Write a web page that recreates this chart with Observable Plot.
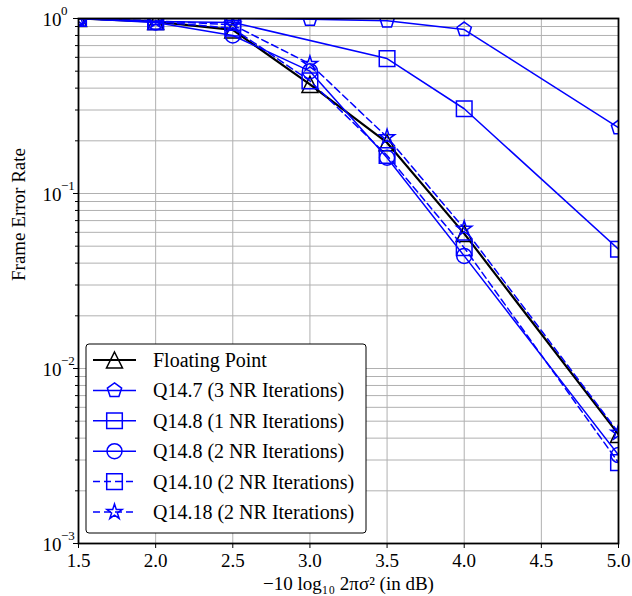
<!DOCTYPE html>
<html><head><meta charset="utf-8">
<script src="https://cdn.jsdelivr.net/npm/d3@7"></script>
<script src="https://cdn.jsdelivr.net/npm/@observablehq/plot@0.6"></script>
<style>
html,body{margin:0;padding:0;background:#fff;}
#chart{position:relative;width:632px;height:596px;}
</style></head><body><div id="chart"></div>
<script>
// ---- data ----
const snr = [1.5, 2.0, 2.5, 3.0, 3.5, 4.0, 5.0];
const floatingPoint = [1.0, 0.96, 0.86, 0.42, 0.195, 0.059, 0.0042];
const q14_7_3nr  = [1.0, 1.0, 1.0, 0.99, 0.97, 0.865, 0.238];
const q14_8_1nr  = [1.0, 0.96, 0.95, null, 0.59, 0.305, 0.048];
const q14_8_2nr  = [1.0, 0.95, 0.80, 0.50, 0.16, 0.044, 0.0032];
const q14_10_2nr = [1.0, 0.96, 0.88, 0.44, 0.165, 0.049, 0.0029];
const q14_18_2nr = [1.0, 0.97, 0.92, 0.55, 0.21, 0.063, 0.0043];
const seriesNames = ["Floating Point", "Q14.7 (3 NR Iterations)", "Q14.8 (1 NR Iterations)",
  "Q14.8 (2 NR Iterations)", "Q14.10 (2 NR Iterations)", "Q14.18 (2 NR Iterations)"];
const xTicks = [1.5, 2.0, 2.5, 3.0, 3.5, 4.0, 4.5, 5.0];
const xTickLabels = ["1.5", "2.0", "2.5", "3.0", "3.5", "4.0", "4.5", "5.0"];
const yMajorTicks = [1e-3, 1e-2, 1e-1, 1];
const yMajorExponents = ["−3", "−2", "−1", "0"];
const yMinorTicks = [];
for (const d of [1e-3, 1e-2, 1e-1]) for (let k = 2; k <= 9; k++) yMinorTicks.push(+(k * d).toPrecision(3));
const xLabel = "−10 log₁₀ 2πσ² (in dB)";
const yLabel = "Frame Error Rate";

// ---- symbols (radius r = sqrt(size/π)) ----
const R = s => Math.sqrt(s / Math.PI);
const triangle = {draw(c, s){const r = R(s); c.moveTo(0,-r); c.lineTo(r,r); c.lineTo(-r,r); c.closePath();}};
const square = {draw(c, s){const r = R(s); c.moveTo(-r,-r); c.lineTo(r,-r); c.lineTo(r,r); c.lineTo(-r,r); c.closePath();}};
const pentagon = {draw(c, s){const r = R(s); for (let i=0;i<5;i++){const a=-Math.PI/2+i*2*Math.PI/5; const x=r*Math.cos(a), y=r*Math.sin(a); i?c.lineTo(x,y):c.moveTo(x,y);} c.closePath();}};
const star = {draw(c, s){const r = R(s); for (let i=0;i<10;i++){const rr = i%2? r*0.381966 : r; const a=-Math.PI/2+i*Math.PI/5; const x=rr*Math.cos(a), y=rr*Math.sin(a); i?c.lineTo(x,y):c.moveTo(x,y);} c.closePath();}};
const circle = {draw(c, s){const r = R(s); c.moveTo(r,0); c.arc(0,0,r,0,2*Math.PI);}};

const styles = [
  {values: floatingPoint, color: "black", width: 2.2, dash: null, symbol: triangle, r: 8},
  {values: q14_7_3nr, color: "#0000ff", width: 1.5, dash: null, symbol: pentagon, r: 7.5},
  {values: q14_8_1nr, color: "#0000ff", width: 1.5, dash: null, symbol: square, r: 7.8},
  {values: q14_8_2nr, color: "#0000ff", width: 1.5, dash: null, symbol: circle, r: 7.5},
  {values: q14_10_2nr, color: "#0000ff", width: 1.5, dash: "7,4", symbol: square, r: 7.8},
  {values: q14_18_2nr, color: "#0000ff", width: 1.5, dash: "7,4", symbol: star, r: 8}
];
const series = styles.map((s, i) => ({...s, name: seriesNames[i],
  rows: snr.map((x, j) => ({x, y: s.values[j]})).filter(d => d.y != null)}));

const FONT = "'Liberation Serif', serif";
const gridColor = "#b0b0b0";
const xLabelMap = new Map(xTicks.map((t, i) => [t, xTickLabels[i]]));
const marks = [
  Plot.gridX(xTicks, {stroke: gridColor, strokeOpacity: 1, strokeWidth: 1}),
  Plot.gridY(yMinorTicks, {stroke: gridColor, strokeOpacity: 1, strokeWidth: 1}),
  Plot.gridY(yMajorTicks, {stroke: gridColor, strokeOpacity: 1, strokeWidth: 1}),
  Plot.axisX(xTicks, {tickSize: 5, tickPadding: 5, tickFormat: d => xLabelMap.get(d), label: null, fontSize: 19}),
  Plot.axisY(yMajorTicks, {tickSize: 5, tickPadding: 3, tickFormat: () => "", label: null}),
  Plot.axisY(yMinorTicks, {tickSize: 3, tickFormat: () => "", label: null}),
];
for (const s of series) {
  marks.push(Plot.line(s.rows, {x: "x", y: "y", stroke: s.color, strokeWidth: s.width, strokeDasharray: s.dash, clip: true}));
  marks.push(Plot.dot(s.rows, {x: "x", y: "y", symbol: s.symbol, stroke: s.color, strokeWidth: 1.5, fill: "none", r: s.r, clip: true}));
}
marks.push(Plot.frame({stroke: "black", strokeWidth: 1.8}));
// y tick labels "10" base as text marks at the major tick values (exponent added below)
marks.push(Plot.text(yMajorTicks, {x: 1.5, y: d => d, text: () => "10", dx: -17, dy: 1, textAnchor: "end", fontSize: 19}));
marks.push(Plot.text([xLabel], {frameAnchor: "bottom", dy: 46, fontSize: 19}));
marks.push(Plot.text([yLabel], {frameAnchor: "left", dx: -60, rotate: -90, fontSize: 19}));

const plot = Plot.plot({
  width: 632, height: 596,
  marginLeft: 78, marginRight: 14, marginTop: 18, marginBottom: 53,
  style: {fontFamily: FONT, fontSize: "19px", background: "white", color: "black"},
  x: {domain: [1.5, 5.0]},
  y: {type: "log", domain: [1e-3, 1]},
  marks
});
document.getElementById("chart").appendChild(plot);

// exponents for the y tick labels, placed via the plot's own scales
const svg = d3.select(plot);
const ys = plot.scale("y"), xs = plot.scale("x");
const eg = svg.append("g").attr("font-family", FONT).attr("font-size", 13).attr("text-anchor", "start");
yMajorTicks.forEach((t, i) => {
  eg.append("text").attr("x", xs.apply(1.5) - 17).attr("y", ys.apply(t) - 3).text(yMajorExponents[i]);
});

// ---- legend (drawn into the same SVG) ----
const lg = svg.append("g").attr("font-family", FONT).attr("font-size", 20).attr("text-anchor", "start");
lg.append("rect").attr("x", 86).attr("y", 344).attr("width", 280).attr("height", 189)
  .attr("rx", 3).attr("fill", "white").attr("stroke", "black").attr("stroke-width", 1);
series.forEach((s, i) => {
  const cy = 360 + i * 30.4;
  lg.append("line").attr("x1", 93).attr("x2", 136).attr("y1", cy).attr("y2", cy)
    .attr("stroke", s.color).attr("stroke-width", s.width).attr("stroke-dasharray", s.dash);
  lg.append("path").attr("d", d3.symbol(s.symbol, s.r * s.r * Math.PI)())
    .attr("transform", `translate(114.5,${cy})`).attr("fill", "none").attr("stroke", s.color).attr("stroke-width", 1.5);
  lg.append("text").attr("x", 153).attr("y", cy).attr("dy", "0.35em").text(s.name);
});
</script>
</body></html>
